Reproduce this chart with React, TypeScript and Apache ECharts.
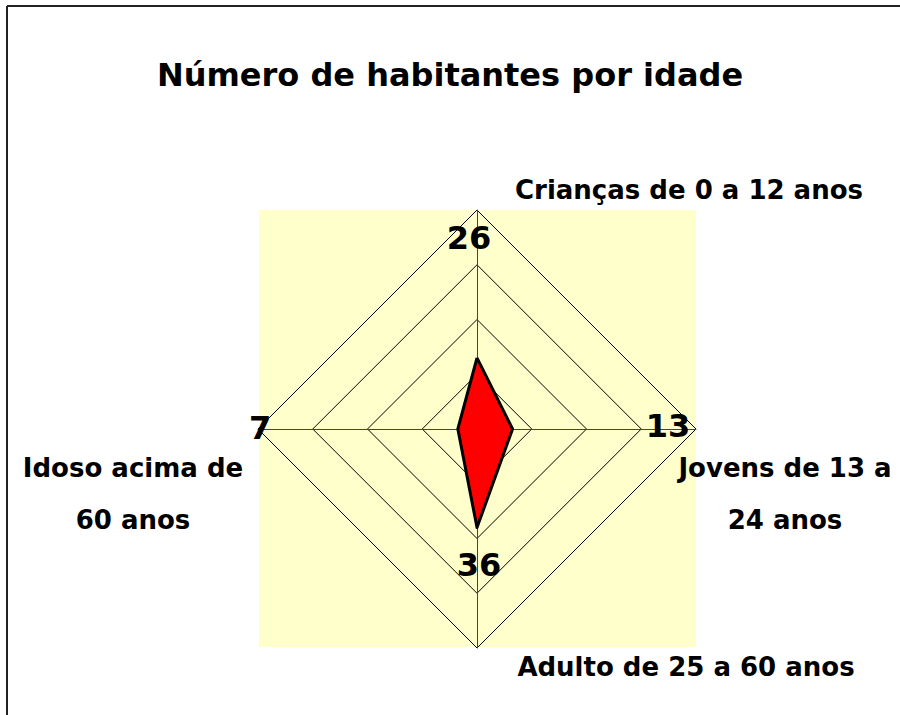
import React, { useEffect, useRef } from "react";
import * as echarts from "echarts";

// Data
const categories = [
  "Crianças de 0 a 12 anos",
  "Jovens de 13 a 24 anos",
  "Adulto de 25 a 60 anos",
  "Idoso acima de 60 anos",
];
const categoryLabels = [
  "Crianças de 0 a 12 anos",
  "Jovens de 13 a\n24 anos",
  "Adulto de 25 a 60 anos",
  "Idoso acima de\n60 anos",
];
const values = [26, 13, 36, 7];
const axisMax = 80;
const title = "Número de habitantes por idade";

const FONT = "'DejaVu Sans', sans-serif";

export default function App() {
  const ref = useRef<HTMLDivElement>(null);

  useEffect(() => {
    if (!ref.current) return;
    const chart = echarts.init(ref.current, undefined, { renderer: "svg" });

    const cx = 477;
    const cy = 429;
    const R = 219;

    // ECharts radar goes counter-clockwise from top: top, left, bottom, right
    const order = [0, 3, 2, 1];
    const indicator = order.map((i) => ({ name: categories[i], max: axisMax }));
    const seriesValues = order.map((i) => values[i]);

    // label positions (layout only)
    const valuePos = [
      [cx - 8, cy - 191],
      [cx + 191, cy - 3],
      [cx + 2, cy + 136],
      [cx - 217, cy - 1],
    ];
    const namePos = [
      [689, 190],
      [785, 494],
      [686, 667],
      [133, 494],
    ];

    const graphics: any[] = [
      {
        type: "rect",
        z: 0,
        shape: { x: cx - R + 1, y: cy - R, width: 2 * R - 1, height: 2 * R - 1 },
        style: { fill: "#FFFFCC" },
        silent: true,
      },
      {
        type: "line",
        z: 100,
        shape: { x1: 7, y1: 6, x2: 900, y2: 6 },
        style: { stroke: "#222", lineWidth: 2 },
      },
      {
        type: "line",
        z: 100,
        shape: { x1: 7, y1: 6, x2: 7, y2: 715 },
        style: { stroke: "#222", lineWidth: 2 },
      },
      {
        type: "text",
        z: 100,
        x: 450,
        y: 75,
        style: {
          text: title,
          fill: "#000",
          font: `bold 32px ${FONT}`,
          align: "center",
          verticalAlign: "middle",
        },
      },
    ];

    values.forEach((v, i) => {
      graphics.push({
        type: "text",
        z: 100,
        x: valuePos[i][0],
        y: valuePos[i][1],
        style: {
          text: String(v),
          fill: "#000",
          font: `bold 32px ${FONT}`,
          align: "center",
          verticalAlign: "middle",
        },
      });
      graphics.push({
        type: "text",
        z: 100,
        x: namePos[i][0],
        y: namePos[i][1],
        style: {
          text: categoryLabels[i],
          fill: "#000",
          font: `bold 26px ${FONT}`,
          lineHeight: 52,
          align: "center",
          verticalAlign: "middle",
        },
      });
    });

    chart.setOption({
      animation: false,
      backgroundColor: "#ffffff",
      graphic: graphics,
      radar: {
        center: [cx, cy],
        radius: R,
        startAngle: 90,
        shape: "polygon",
        splitNumber: 4,
        indicator,
        axisName: { show: false },
        axisLine: { lineStyle: { color: "#444", width: 1 } },
        splitLine: { lineStyle: { color: "#000", width: 1 } },
        splitArea: { show: false },
        z: 2,
      },
      series: [
        {
          type: "radar",
          z: 3,
          symbol: "none",
          lineStyle: { width: 0, opacity: 0 },
          areaStyle: { color: "#FF0000", opacity: 1 },
          itemStyle: { color: "#FF0000" },
          data: [{ value: seriesValues, name: "Habitantes" }],
        },
        {
          type: "radar",
          z: 4,
          symbol: "none",
          lineStyle: { color: "#000", width: 3 },
          itemStyle: { color: "#000" },
          data: [{ value: seriesValues, name: "Habitantes" }],
        },
      ],
    });

    return () => chart.dispose();
  }, []);

  return (
    <div
      ref={ref}
      style={{ position: "absolute", left: 0, top: 0, width: 900, height: 715 }}
    />
  );
}
